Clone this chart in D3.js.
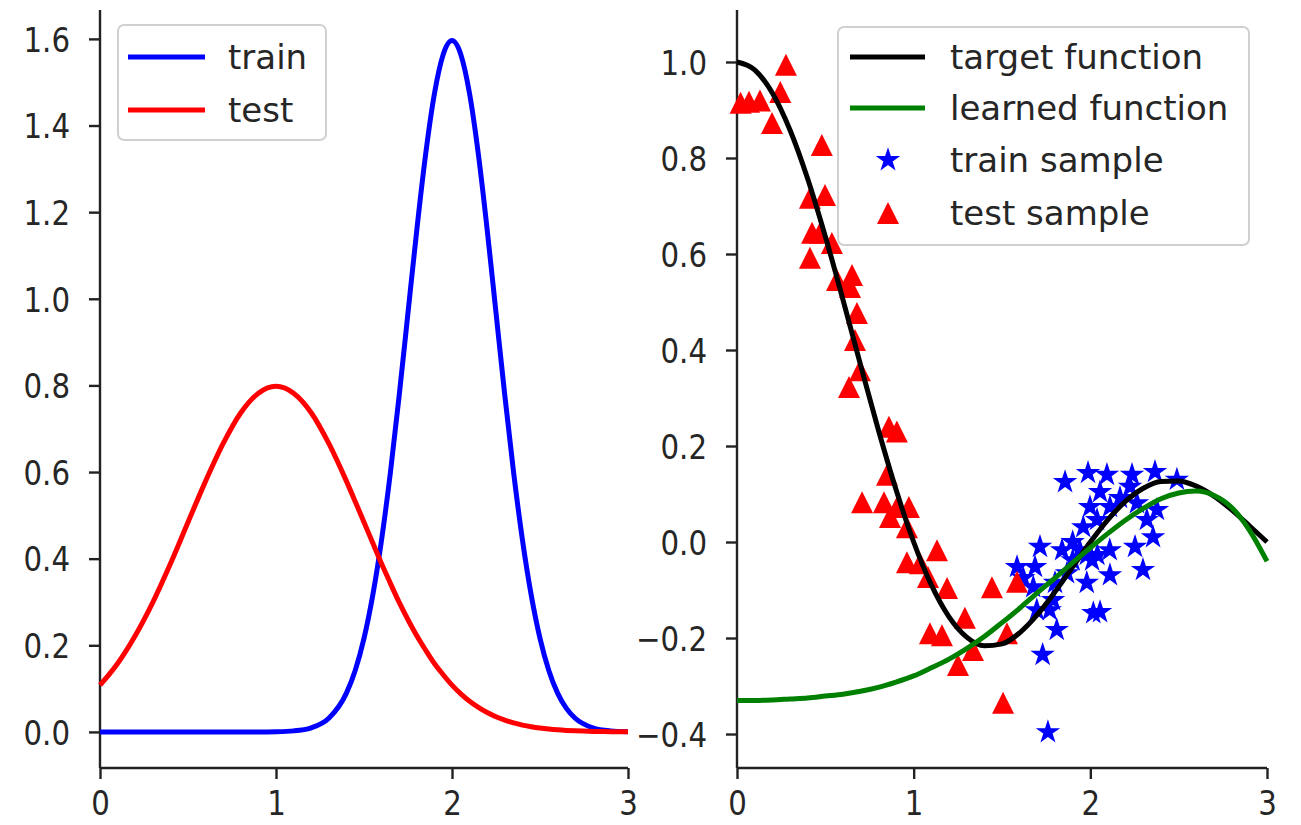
<!DOCTYPE html>
<html><head><meta charset="utf-8">
<script src="https://cdn.jsdelivr.net/npm/d3@7"></script>
<style>body{margin:0;background:#fff;} text{font-family:"DejaVu Sans",sans-serif;fill:#262626;}</style>
</head><body>
<svg id="c" width="1301" height="825"></svg>
<script>
// ---------- data ----------
const densX = [0,0.1,0.2,0.3,0.4,0.5,0.6,0.7,0.8,0.9,1.0,1.1,1.2,1.3,1.4,1.45,1.5,1.55,1.6,1.65,1.7,1.75,1.8,1.85,1.9,1.95,2.0,2.05,2.1,2.15,2.2,2.25,2.3,2.35,2.4,2.45,2.5,2.55,2.6,2.65,2.7,2.8,2.9,3.0];
const trainDensity = [0,0,0,0,0,0,0,0,0,0,0.0005,0.0024,0.0095,0.0316,0.0896,0.142,0.216,0.316,0.444,0.599,0.777,0.968,1.159,1.333,1.473,1.564,1.596,1.564,1.473,1.333,1.159,0.968,0.777,0.599,0.444,0.316,0.216,0.142,0.0896,0.0543,0.0316,0.0095,0.0024,0.0005];
const testDensity  = [0.108,0.158,0.222,0.299,0.388,0.484,0.579,0.666,0.737,0.782,0.798,0.782,0.737,0.666,0.579,0.532,0.484,0.436,0.388,0.343,0.299,0.259,0.222,0.189,0.158,0.132,0.108,0.088,0.0709,0.0567,0.0448,0.0351,0.0271,0.0208,0.0158,0.0119,0.0089,0.0066,0.0048,0.0035,0.0025,0.0012,0.0006,0.0003];

const fnX = [0,0.1,0.2,0.3,0.4,0.5,0.6,0.7,0.8,0.9,1.0,1.1,1.2,1.3,1.4,1.5,1.6,1.7,1.8,1.9,2.0,2.1,2.2,2.3,2.4,2.5,2.6,2.7,2.8,2.9,3.0];
const targetY  = [1,0.9836,0.9355,0.8584,0.7568,0.6366,0.5046,0.3679,0.2339,0.1093,0,-0.0894,-0.1559,-0.1981,-0.2162,-0.2122,-0.1892,-0.1515,-0.1039,-0.0518,0,0.0468,0.0850,0.1120,0.1261,0.1273,0.1164,0.0954,0.0668,0.0339,0];
const learnedY = [-0.330,-0.330,-0.329,-0.327,-0.325,-0.321,-0.317,-0.311,-0.303,-0.292,-0.279,-0.262,-0.244,-0.222,-0.197,-0.168,-0.138,-0.106,-0.075,-0.043,-0.012,0.018,0.046,0.070,0.090,0.102,0.106,0.097,0.072,0.025,-0.040];

const trainSampleX = [1.857,1.987,2.094,2.236,2.366,2.49,2.225,2.168,2.055,1.998,2.111,2.264,2.377,2.32,2.038,1.96,2.355,2.253,1.715,1.84,1.94,1.98,2.04,2.11,1.9,2.01,1.585,1.687,2.298,2.111,1.868,1.98,1.8,1.677,1.789,1.697,1.77,2.017,2.055,1.81,1.73,1.76,1.62,1.9];
const trainSampleY = [0.125,0.144,0.14,0.14,0.146,0.13,0.115,0.092,0.104,0.073,0.073,0.081,0.067,0.046,0.046,0.031,0.01,-0.01,-0.01,-0.017,-0.017,-0.027,-0.027,-0.017,-0.038,-0.038,-0.052,-0.052,-0.058,-0.069,-0.065,-0.085,-0.085,-0.094,-0.121,-0.142,-0.142,-0.148,-0.146,-0.183,-0.235,-0.396,-0.075,0.0];

const testSampleX = [0.277,0.245,0.02,0.068,0.13,0.198,0.48,0.413,0.498,0.425,0.47,0.537,0.413,0.566,0.651,0.64,0.679,0.668,0.696,0.634,0.86,0.905,0.849,0.708,0.832,0.906,0.973,0.866,0.962,1.132,0.962,1.036,1.081,1.189,1.443,1.585,1.29,1.092,1.16,1.528,1.336,1.251,1.506];
const testSampleY = [0.994,0.9375,0.915,0.917,0.92,0.873,0.827,0.717,0.723,0.644,0.644,0.623,0.592,0.546,0.556,0.531,0.477,0.421,0.358,0.323,0.24,0.23,0.14,0.083,0.083,0.073,0.073,0.052,0.031,-0.017,-0.042,-0.044,-0.073,-0.096,-0.094,-0.083,-0.158,-0.19,-0.194,-0.19,-0.225,-0.256,-0.335];

const leftYTicks = [0,0.2,0.4,0.6,0.8,1.0,1.2,1.4,1.6];
const rightYTicks = [-0.4,-0.2,0,0.2,0.4,0.6,0.8,1.0];
const xTicks = [0,1,2,3];
const leftLegend = ["train","test"];
const rightLegend = ["target function","learned function","train sample","test sample"];

// ---------- drawing ----------
const svg = d3.select("#c");
const TFS = 34, LFS = 34;
const TOPY = 10, BOTY = 768;

const xL = d3.scaleLinear().domain([0,3]).range([100,628]);
const yL = d3.scaleLinear().domain([-0.0833,1.6667]).range([BOTY,TOPY]);
const xR = d3.scaleLinear().domain([0,3]).range([737,1267]);
const yR = d3.scaleLinear().domain([-0.4708,1.1083]).range([BOTY,TOPY]);

function axes(x, y, yTicks, yFmt) {
  const gx = svg.append("g").attr("transform",`translate(0,${BOTY})`)
    .call(d3.axisBottom(x).tickValues(xTicks).tickFormat(d3.format("d")).tickSize(11).tickPadding(12));
  const gy = svg.append("g").attr("transform",`translate(${x.range()[0]},0)`)
    .call(d3.axisLeft(y).tickValues(yTicks).tickFormat(yFmt).tickSize(11).tickPadding(19));
  [gx,gy].forEach(g=>{
    g.select(".domain").attr("stroke","#222").attr("stroke-width",2.4);
    g.selectAll(".tick line").attr("stroke","#222").attr("stroke-width",2.4);
    g.selectAll(".tick text").style("font-size",TFS+"px").style("font-family","DejaVu Sans").attr("fill","#262626")
      .each(function(){const w=this.getComputedTextLength(); d3.select(this).attr("textLength",w*0.86).attr("lengthAdjust","spacingAndGlyphs");});
  });
  gy.selectAll(".tick text").attr("dy","0.36em");
  gy.select(".domain").attr("d",`M0,${BOTY}V${TOPY}`);
  gx.select(".domain").attr("d",`M${x.range()[0]},0H${x.range()[1]}`);
}
axes(xL,yL,leftYTicks,d3.format(".1f"));
axes(xR,yR,rightYTicks,d3.format(".1f"));

// left curves
const lineL = (ys)=>d3.line().x((d,i)=>xL(densX[i])).y(d=>yL(d)).curve(d3.curveMonotoneX)(ys);
svg.append("path").attr("d",lineL(trainDensity)).attr("fill","none").attr("stroke","#0000ff").attr("stroke-width",5);
svg.append("path").attr("d",lineL(testDensity)).attr("fill","none").attr("stroke","#ff0000").attr("stroke-width",5);

// right: scatter first
const tri = {draw(ctx,size){const r=Math.sqrt(size)/2;ctx.moveTo(0,-r);ctx.lineTo(r,r);ctx.lineTo(-r,r);ctx.closePath();}};
const starSym = d3.symbol().type(d3.symbolStar).size(185);
const triSym = d3.symbol().type(tri).size(484);
svg.append("g").selectAll("path").data(trainSampleX).join("path")
  .attr("d",starSym).attr("transform",(d,i)=>`translate(${xR(d)},${yR(trainSampleY[i])})`).attr("fill","#0000ff");
svg.append("g").selectAll("path").data(testSampleX).join("path")
  .attr("d",triSym).attr("transform",(d,i)=>`translate(${xR(d)},${yR(testSampleY[i])})`).attr("fill","#ff0000");

const lineR = (ys)=>d3.line().x((d,i)=>xR(fnX[i])).y(d=>yR(d)).curve(d3.curveMonotoneX)(ys);
svg.append("path").attr("d",lineR(targetY)).attr("fill","none").attr("stroke","#000").attr("stroke-width",5);
svg.append("path").attr("d",lineR(learnedY)).attr("fill","none").attr("stroke","#008000").attr("stroke-width",5);

// legends
function legendBox(x0,y0,w,h){
  svg.append("rect").attr("x",x0).attr("y",y0).attr("width",w).attr("height",h).attr("rx",6)
    .attr("fill","rgba(255,255,255,0.8)").attr("stroke","#d0d0d0").attr("stroke-width",2);
}
legendBox(118,25,208,115);
const lcol = ["#0000ff","#ff0000"];
leftLegend.forEach((t,i)=>{
  const yy = 57 + i*53;
  svg.append("line").attr("x1",128).attr("x2",205).attr("y1",yy).attr("y2",yy).attr("stroke",lcol[i]).attr("stroke-width",5);
  svg.append("text").attr("x",228).attr("y",yy).attr("dy","0.35em").style("font-size",LFS+"px").text(t);
});
legendBox(838,27,411,218);
const rrows = [57,108,160,213];
rightLegend.forEach((t,i)=>{
  const yy = rrows[i];
  if(i===0||i===1){
    svg.append("line").attr("x1",850).attr("x2",925).attr("y1",yy).attr("y2",yy).attr("stroke",i===0?"#000":"#008000").attr("stroke-width",5);
  } else if(i===2){
    svg.append("path").attr("d",starSym).attr("transform",`translate(888,${yy})`).attr("fill","#0000ff");
  } else {
    svg.append("path").attr("d",triSym).attr("transform",`translate(888,${yy})`).attr("fill","#ff0000");
  }
  svg.append("text").attr("x",950).attr("y",yy).attr("dy","0.35em").style("font-size",LFS+"px").text(t);
});
</script>
</body></html>
